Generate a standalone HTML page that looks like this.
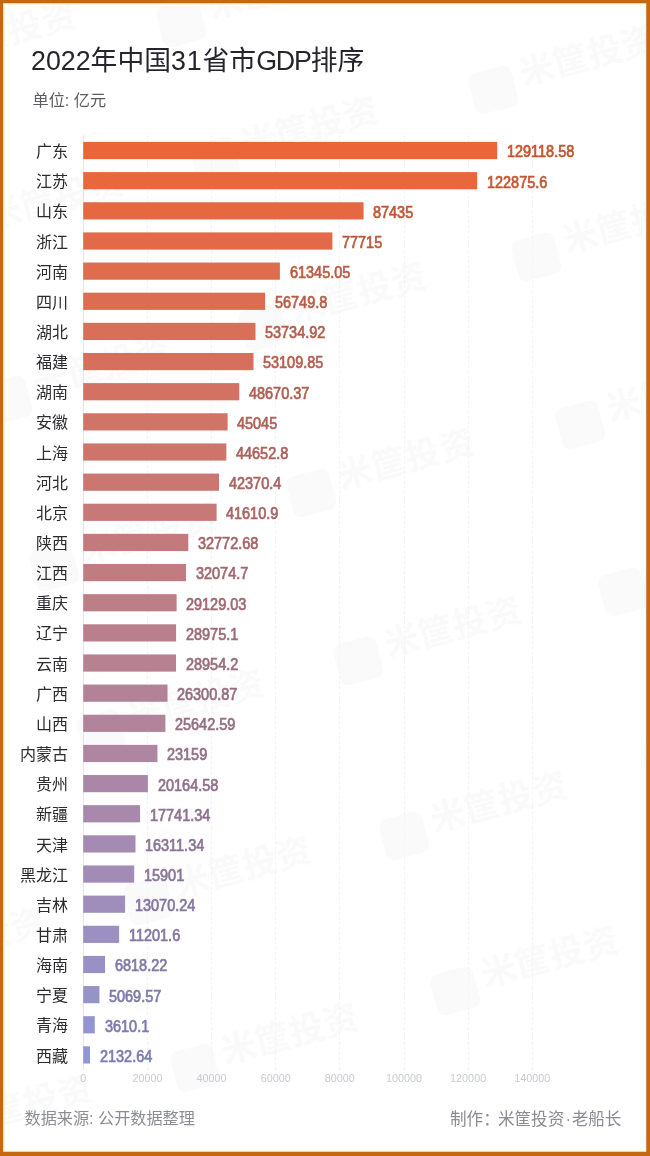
<!DOCTYPE html>
<html lang="zh-CN">
<head>
<meta charset="utf-8">
<title>2022年中国31省市GDP排序</title>
<style>
html,body{margin:0;padding:0;}
body{width:650px;height:1156px;overflow:hidden;background:#fff;font-family:"Liberation Sans","Noto Sans CJK SC",sans-serif;}
#page{position:relative;width:650px;height:1156px;overflow:hidden;background:#fff;}
#frame{position:absolute;left:0;top:0;width:650px;height:1156px;z-index:5;pointer-events:none;}
h1{position:absolute;left:31px;top:42px;margin:0;font-size:26.8px;line-height:38px;font-weight:400;color:#25252d;white-space:nowrap;letter-spacing:0;}
.n{letter-spacing:.85px;}
.g{letter-spacing:-1.17px;}
.sub{position:absolute;left:32.5px;top:87.8px;font-size:16.2px;line-height:24px;color:#5c5c62;white-space:nowrap;}
.row{position:absolute;left:0;width:650px;height:20px;}
.lab{position:absolute;right:582.0px;font-size:16px;line-height:20px;color:#2b2b30;white-space:nowrap;}
.bar{position:absolute;left:83px;top:0;display:block;}
.val{position:absolute;transform:scaleX(.915);transform-origin:0 50%;font-size:15.8px;line-height:20px;font-weight:400;-webkit-text-stroke:.7px currentColor;white-space:nowrap;letter-spacing:0;}
.axis{position:absolute;left:82.5px;top:135px;width:1px;height:935px;background:#e3e5ec;}
.grid{position:absolute;top:135px;width:0;height:935px;border-left:1px dashed #f4f4f6;}
.tick{position:absolute;top:1071px;width:60px;text-align:center;font-size:10.8px;line-height:14px;color:#c8cad1;}
.src{position:absolute;left:24.5px;top:1106.0px;font-size:16.15px;line-height:24px;color:#8b8c94;white-space:nowrap;}
.mk{position:absolute;right:28.6px;top:1107.8px;font-size:16.6px;line-height:24px;color:#8b8c94;white-space:nowrap;}
.mk .c{margin-right:-1.8px;}
.mk .d{margin:0 .6px 0 1.2px;}
.wm{position:absolute;font-size:35px;line-height:50px;font-weight:700;color:#fafafa;white-space:nowrap;transform:rotate(-15deg);transform-origin:22px 25px;}
.wm .wl{display:inline-block;width:44px;height:42px;border-radius:8px;background:#fafafa;vertical-align:-10px;margin-right:8px;}
.wm .wt{position:relative;top:-7px;}
</style>
</head>
<body>
<div id="page">
<div class="wm" style="left:471.0px;top:64.0px"><span class="wl"></span><span class="wt">米筐投资</span></div><div class="wm" style="left:514.3px;top:231.3px"><span class="wl"></span><span class="wt">米筐投资</span></div><div class="wm" style="left:557.6px;top:398.6px"><span class="wl"></span><span class="wt">米筐投资</span></div><div class="wm" style="left:600.9px;top:565.9px"><span class="wl"></span><span class="wt">米筐投资</span></div><div class="wm" style="left:644.2px;top:733.2px"><span class="wl"></span><span class="wt">米筐投资</span></div><div class="wm" style="left:159px;top:-3px"><span class="wl"></span><span class="wt">米筐投资</span></div><div class="wm" style="left:193px;top:135px"><span class="wl"></span><span class="wt">米筐投资</span></div><div class="wm" style="left:241px;top:301px"><span class="wl"></span><span class="wt">米筐投资</span></div><div class="wm" style="left:289px;top:467px"><span class="wl"></span><span class="wt">米筐投资</span></div><div class="wm" style="left:336px;top:635px"><span class="wl"></span><span class="wt">米筐投资</span></div><div class="wm" style="left:382px;top:810px"><span class="wl"></span><span class="wt">米筐投资</span></div><div class="wm" style="left:433px;top:965px"><span class="wl"></span><span class="wt">米筐投资</span></div><div class="wm" style="left:173px;top:1042px"><span class="wl"></span><span class="wt">米筐投资</span></div><div class="wm" style="left:126px;top:875px"><span class="wl"></span><span class="wt">米筐投资</span></div><div class="wm" style="left:79px;top:708px"><span class="wl"></span><span class="wt">米筐投资</span></div><div class="wm" style="left:32px;top:541px"><span class="wl"></span><span class="wt">米筐投资</span></div><div class="wm" style="left:-15px;top:374px"><span class="wl"></span><span class="wt">米筐投资</span></div><div class="wm" style="left:-62px;top:207px"><span class="wl"></span><span class="wt">米筐投资</span></div><div class="wm" style="left:-109px;top:40px"><span class="wl"></span><span class="wt">米筐投资</span></div><div class="wm" style="left:-93px;top:1113px"><span class="wl"></span><span class="wt">米筐投资</span></div><div class="wm" style="left:-140px;top:946px"><span class="wl"></span><span class="wt">米筐投资</span></div><div class="wm" style="left:-187px;top:779px"><span class="wl"></span><span class="wt">米筐投资</span></div>
<h1>2022年中国<span class="n">31</span>省市<span class="g">GDP</span>排序</h1>
<div class="sub">单位: 亿元</div>
<div class="axis"></div>
<div class="grid" style="left:146.94px"></div><div class="grid" style="left:211.08px"></div><div class="grid" style="left:275.22px"></div><div class="grid" style="left:339.36px"></div><div class="grid" style="left:403.50px"></div><div class="grid" style="left:467.64px"></div><div class="grid" style="left:531.78px"></div>
<div class="row" style="top:141px"><span class="lab" style="top:1.15px">广东</span><svg class="bar" width="416" height="20" viewBox="0 0 416 20"><rect x="0.20" y="0.95" width="414.01" height="17.2" fill="#eb6538"/></svg><span class="val" style="left:507.01px;top:1.45px;color:#c5552f">129118.58</span></div>
<div class="row" style="top:171px"><span class="lab" style="top:1.30px">江苏</span><svg class="bar" width="396" height="20" viewBox="0 0 396 20"><rect x="0.20" y="1.10" width="393.99" height="17.2" fill="#e8673d"/></svg><span class="val" style="left:486.99px;top:1.60px;color:#c35733">122875.6</span></div>
<div class="row" style="top:201px"><span class="lab" style="top:1.44px">山东</span><svg class="bar" width="282" height="20" viewBox="0 0 282 20"><rect x="0.20" y="1.24" width="280.35" height="17.2" fill="#e56843"/></svg><span class="val" style="left:373.35px;top:1.74px;color:#c05738">87435</span></div>
<div class="row" style="top:231px"><span class="lab" style="top:1.59px">浙江</span><svg class="bar" width="251" height="20" viewBox="0 0 251 20"><rect x="0.20" y="1.39" width="249.19" height="17.2" fill="#e26a48"/></svg><span class="val" style="left:342.19px;top:1.89px;color:#be593c">77715</span></div>
<div class="row" style="top:261px"><span class="lab" style="top:1.73px">河南</span><svg class="bar" width="198" height="20" viewBox="0 0 198 20"><rect x="0.20" y="1.53" width="196.70" height="17.2" fill="#df6c4d"/></svg><span class="val" style="left:289.70px;top:2.03px;color:#bb5b41">61345.05</span></div>
<div class="row" style="top:291px"><span class="lab" style="top:1.88px">四川</span><svg class="bar" width="184" height="20" viewBox="0 0 184 20"><rect x="0.20" y="1.68" width="181.96" height="17.2" fill="#dc6d52"/></svg><span class="val" style="left:274.96px;top:2.18px;color:#b95c45">56749.8</span></div>
<div class="row" style="top:321px"><span class="lab" style="top:2.03px">湖北</span><svg class="bar" width="174" height="20" viewBox="0 0 174 20"><rect x="0.20" y="1.83" width="172.30" height="17.2" fill="#d96f58"/></svg><span class="val" style="left:265.30px;top:2.33px;color:#b65d4a">53734.92</span></div>
<div class="row" style="top:352px"><span class="lab" style="top:1.17px">福建</span><svg class="bar" width="172" height="20" viewBox="0 0 172 20"><rect x="0.20" y="0.97" width="170.29" height="17.2" fill="#d6705d"/></svg><span class="val" style="left:263.29px;top:1.47px;color:#b45e4e">53109.85</span></div>
<div class="row" style="top:382px"><span class="lab" style="top:1.32px">湖南</span><svg class="bar" width="158" height="20" viewBox="0 0 158 20"><rect x="0.20" y="1.12" width="156.06" height="17.2" fill="#d37262"/></svg><span class="val" style="left:249.06px;top:1.62px;color:#b16052">48670.37</span></div>
<div class="row" style="top:412px"><span class="lab" style="top:1.46px">安徽</span><svg class="bar" width="146" height="20" viewBox="0 0 146 20"><rect x="0.20" y="1.26" width="144.43" height="17.2" fill="#d07467"/></svg><span class="val" style="left:237.43px;top:1.76px;color:#af6157">45045</span></div>
<div class="row" style="top:442px"><span class="lab" style="top:1.61px">上海</span><svg class="bar" width="145" height="20" viewBox="0 0 145 20"><rect x="0.20" y="1.41" width="143.17" height="17.2" fill="#cd756d"/></svg><span class="val" style="left:236.17px;top:1.91px;color:#ac625c">44652.8</span></div>
<div class="row" style="top:472px"><span class="lab" style="top:1.76px">河北</span><svg class="bar" width="138" height="20" viewBox="0 0 138 20"><rect x="0.20" y="1.56" width="135.86" height="17.2" fill="#ca7772"/></svg><span class="val" style="left:228.86px;top:2.06px;color:#aa6460">42370.4</span></div>
<div class="row" style="top:502px"><span class="lab" style="top:1.90px">北京</span><svg class="bar" width="135" height="20" viewBox="0 0 135 20"><rect x="0.20" y="1.70" width="133.42" height="17.2" fill="#c77977"/></svg><span class="val" style="left:226.42px;top:2.20px;color:#a76664">41610.9</span></div>
<div class="row" style="top:532px"><span class="lab" style="top:2.05px">陕西</span><svg class="bar" width="107" height="20" viewBox="0 0 107 20"><rect x="0.20" y="1.85" width="105.08" height="17.2" fill="#c47a7c"/></svg><span class="val" style="left:198.08px;top:2.35px;color:#a56668">32772.68</span></div>
<div class="row" style="top:563px"><span class="lab" style="top:1.19px">江西</span><svg class="bar" width="105" height="20" viewBox="0 0 105 20"><rect x="0.20" y="0.99" width="102.84" height="17.2" fill="#c17c82"/></svg><span class="val" style="left:195.84px;top:1.49px;color:#a2686d">32074.7</span></div>
<div class="row" style="top:593px"><span class="lab" style="top:1.34px">重庆</span><svg class="bar" width="95" height="20" viewBox="0 0 95 20"><rect x="0.20" y="1.14" width="93.40" height="17.2" fill="#be7e87"/></svg><span class="val" style="left:186.40px;top:1.64px;color:#a06a71">29129.03</span></div>
<div class="row" style="top:623px"><span class="lab" style="top:1.49px">辽宁</span><svg class="bar" width="95" height="20" viewBox="0 0 95 20"><rect x="0.20" y="1.29" width="92.91" height="17.2" fill="#ba7f8c"/></svg><span class="val" style="left:185.91px;top:1.79px;color:#9c6b76">28975.1</span></div>
<div class="row" style="top:653px"><span class="lab" style="top:1.63px">云南</span><svg class="bar" width="95" height="20" viewBox="0 0 95 20"><rect x="0.20" y="1.43" width="92.84" height="17.2" fill="#b78192"/></svg><span class="val" style="left:185.84px;top:1.93px;color:#9a6c7b">28954.2</span></div>
<div class="row" style="top:683px"><span class="lab" style="top:1.78px">广西</span><svg class="bar" width="86" height="20" viewBox="0 0 86 20"><rect x="0.20" y="1.58" width="84.33" height="17.2" fill="#b48297"/></svg><span class="val" style="left:177.33px;top:2.08px;color:#976d7f">26300.87</span></div>
<div class="row" style="top:713px"><span class="lab" style="top:1.92px">山西</span><svg class="bar" width="84" height="20" viewBox="0 0 84 20"><rect x="0.20" y="1.72" width="82.22" height="17.2" fill="#b1849c"/></svg><span class="val" style="left:175.22px;top:2.22px;color:#956f83">25642.59</span></div>
<div class="row" style="top:743px"><span class="lab" style="top:2.07px">内蒙古</span><svg class="bar" width="76" height="20" viewBox="0 0 76 20"><rect x="0.20" y="1.87" width="74.26" height="17.2" fill="#ae86a1"/></svg><span class="val" style="left:167.26px;top:2.37px;color:#927187">23159</span></div>
<div class="row" style="top:774px"><span class="lab" style="top:1.22px">贵州</span><svg class="bar" width="66" height="20" viewBox="0 0 66 20"><rect x="0.20" y="1.02" width="64.66" height="17.2" fill="#ab87a7"/></svg><span class="val" style="left:157.66px;top:1.52px;color:#90718c">20164.58</span></div>
<div class="row" style="top:804px"><span class="lab" style="top:1.36px">新疆</span><svg class="bar" width="59" height="20" viewBox="0 0 59 20"><rect x="0.20" y="1.16" width="56.89" height="17.2" fill="#a889ac"/></svg><span class="val" style="left:149.89px;top:1.66px;color:#8d7390">17741.34</span></div>
<div class="row" style="top:834px"><span class="lab" style="top:1.51px">天津</span><svg class="bar" width="54" height="20" viewBox="0 0 54 20"><rect x="0.20" y="1.31" width="52.30" height="17.2" fill="#a58bb1"/></svg><span class="val" style="left:145.30px;top:1.81px;color:#8b7595">16311.34</span></div>
<div class="row" style="top:864px"><span class="lab" style="top:1.65px">黑龙江</span><svg class="bar" width="53" height="20" viewBox="0 0 53 20"><rect x="0.20" y="1.45" width="50.98" height="17.2" fill="#a28cb6"/></svg><span class="val" style="left:143.98px;top:1.95px;color:#887699">15901</span></div>
<div class="row" style="top:894px"><span class="lab" style="top:1.80px">吉林</span><svg class="bar" width="44" height="20" viewBox="0 0 44 20"><rect x="0.20" y="1.60" width="41.91" height="17.2" fill="#9f8ebc"/></svg><span class="val" style="left:134.91px;top:2.10px;color:#86779e">13070.24</span></div>
<div class="row" style="top:924px"><span class="lab" style="top:1.95px">甘肃</span><svg class="bar" width="38" height="20" viewBox="0 0 38 20"><rect x="0.20" y="1.75" width="35.92" height="17.2" fill="#9c8fc1"/></svg><span class="val" style="left:128.92px;top:2.25px;color:#8378a2">11201.6</span></div>
<div class="row" style="top:954px"><span class="lab" style="top:2.09px">海南</span><svg class="bar" width="24" height="20" viewBox="0 0 24 20"><rect x="0.20" y="1.89" width="21.86" height="17.2" fill="#9991c6"/></svg><span class="val" style="left:114.86px;top:2.39px;color:#817aa6">6818.22</span></div>
<div class="row" style="top:985px"><span class="lab" style="top:1.24px">宁夏</span><svg class="bar" width="18" height="20" viewBox="0 0 18 20"><rect x="0.20" y="1.04" width="16.26" height="17.2" fill="#9693cb"/></svg><span class="val" style="left:109.26px;top:1.54px;color:#7e7bab">5069.57</span></div>
<div class="row" style="top:1015px"><span class="lab" style="top:1.38px">青海</span><svg class="bar" width="13" height="20" viewBox="0 0 13 20"><rect x="0.20" y="1.18" width="11.58" height="17.2" fill="#9394d1"/></svg><span class="val" style="left:104.58px;top:1.68px;color:#7b7cb0">3610.1</span></div>
<div class="row" style="top:1045px"><span class="lab" style="top:1.53px">西藏</span><svg class="bar" width="9" height="20" viewBox="0 0 9 20"><rect x="0.20" y="1.33" width="6.84" height="17.2" fill="#9096d6"/></svg><span class="val" style="left:99.84px;top:1.83px;color:#797eb4">2132.64</span></div>
<span class="tick" style="left:53.30px">0</span><span class="tick" style="left:117.44px">20000</span><span class="tick" style="left:181.58px">40000</span><span class="tick" style="left:245.72px">60000</span><span class="tick" style="left:309.86px">80000</span><span class="tick" style="left:374.00px">100000</span><span class="tick" style="left:438.14px">120000</span><span class="tick" style="left:502.28px">140000</span>
<div class="src">数据来源: 公开数据整理</div>
<div class="mk">制作<span class="c">：</span>米筐投资<span class="d">·</span>老船长</div>
<svg id="frame" width="650" height="1156" viewBox="0 0 650 1156"><rect x="3.9" y="4.05" width="641.6" height="1147.05" fill="none" stroke="#fff6d8" stroke-opacity=".75" stroke-width="1.6"/><path fill="#c6680f" fill-rule="evenodd" d="M0 0H650V1156H0Z M3.15 3.3V1151.85H646.25V3.3Z"/></svg>
</div>
</body>
</html>
